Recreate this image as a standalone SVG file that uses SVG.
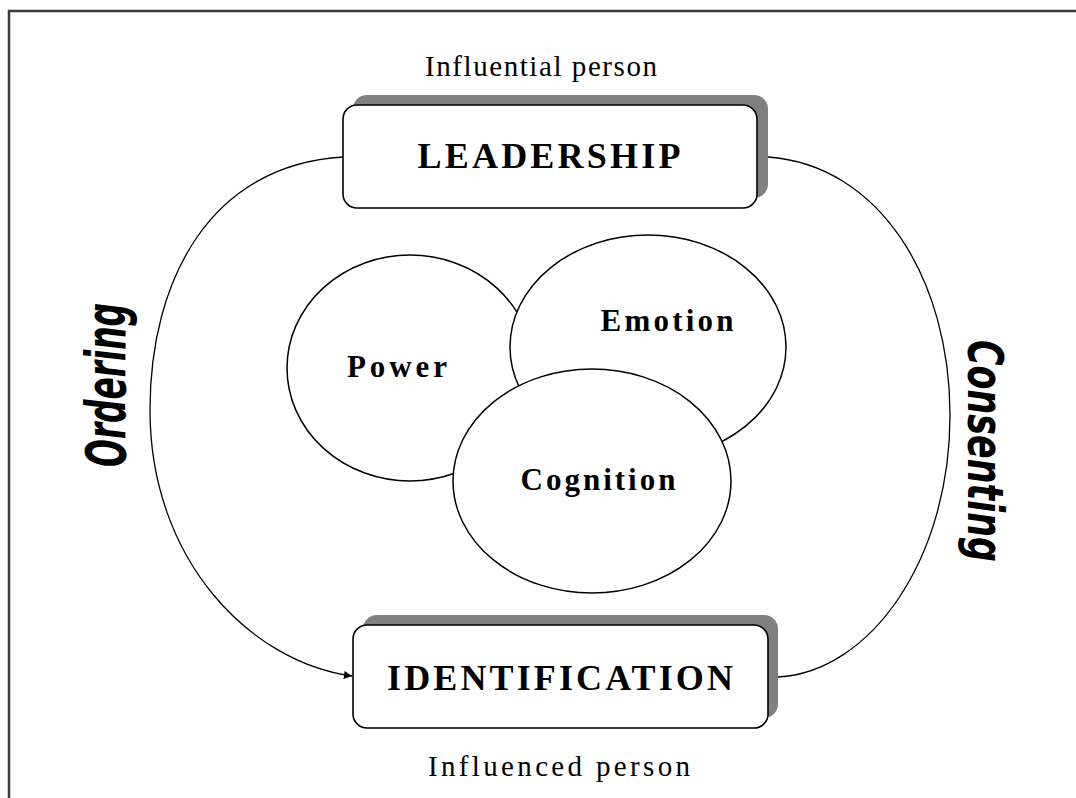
<svg xmlns="http://www.w3.org/2000/svg" width="1076" height="798" viewBox="0 0 1076 798">
<style>
.frame{fill:none;stroke:#3a3a3a;stroke-width:2.5}
.shadow{fill:#808080;stroke:none}
.box{fill:#fff;stroke:#000;stroke-width:1.6}
.ell{fill:#fff;stroke:#000;stroke-width:1.5}
.node{font-family:"Liberation Serif","Times New Roman",serif;font-weight:bold;fill:#000;text-anchor:middle}
.cap{font-family:"Liberation Serif","Times New Roman",serif;font-size:29px;fill:#000;text-anchor:middle}
.side{font-family:"DejaVu Sans",sans-serif;font-weight:bold;font-style:italic;fill:#000;text-anchor:middle}
.conn{fill:none;stroke:#000;stroke-width:1.3}
</style>
<defs>
<marker id="arrow" viewBox="0 0 10 10" refX="10" refY="5" markerWidth="10" markerHeight="8" markerUnits="userSpaceOnUse" orient="auto">
<path d="M0,0 L10,5 L0,10 z" fill="#000"/>
</marker>
</defs>
<rect width="1076" height="798" fill="#fff"/>
<path class="frame" d="M9,798 L9,11 L1076,11"/>
<g id="connectors">
<path class="conn" d="M343,157 C210,165 150,280 150,410 C150,560 250,662 352,676" marker-end="url(#arrow)"/>
<path class="conn" d="M768,157 C880,165 950,280 950,415 C950,560 870,672 778,677"/>
</g>
<g id="leadership">
<rect class="shadow" x="353" y="95" width="415" height="103" rx="14"/>
<rect class="box" x="343" y="105" width="414" height="103" rx="14"/>
<text class="node" x="549" y="168" font-size="36" textLength="263" lengthAdjust="spacing">LEADERSHIP</text>
</g>
<g id="identification">
<rect class="shadow" x="363" y="615" width="415" height="103" rx="14"/>
<rect class="box" x="353" y="625" width="415" height="103" rx="14"/>
<text class="node" x="560" y="690" font-size="36" textLength="346" lengthAdjust="spacing">IDENTIFICATION</text>
</g>
<g id="power">
<ellipse class="ell" cx="410" cy="368" rx="123" ry="113"/>
<text class="node" x="397" y="377" font-size="31" textLength="100" lengthAdjust="spacing">Power</text>
</g>
<g id="emotion">
<ellipse class="ell" cx="648" cy="347" rx="138" ry="112"/>
<text class="node" x="667" y="331" font-size="31" textLength="133" lengthAdjust="spacing">Emotion</text>
</g>
<g id="cognition">
<ellipse class="ell" cx="592" cy="481" rx="139" ry="112"/>
<text class="node" x="598" y="490" font-size="31" textLength="155" lengthAdjust="spacing">Cognition</text>
</g>
<g id="influential">
<text class="cap" x="541" y="76" textLength="232" lengthAdjust="spacing">Influential person</text>
</g>
<g id="influenced">
<text class="cap" x="559" y="776" textLength="262" lengthAdjust="spacing">Influenced person</text>
</g>
<g id="ordering">
<text class="side" transform="translate(125,385) rotate(-90)" font-size="56" textLength="164" lengthAdjust="spacingAndGlyphs">Ordering</text>
</g>
<g id="consenting">
<text class="side" transform="translate(968,451) rotate(90)" font-size="50" textLength="222" lengthAdjust="spacingAndGlyphs">Consenting</text>
</g>
</svg>
